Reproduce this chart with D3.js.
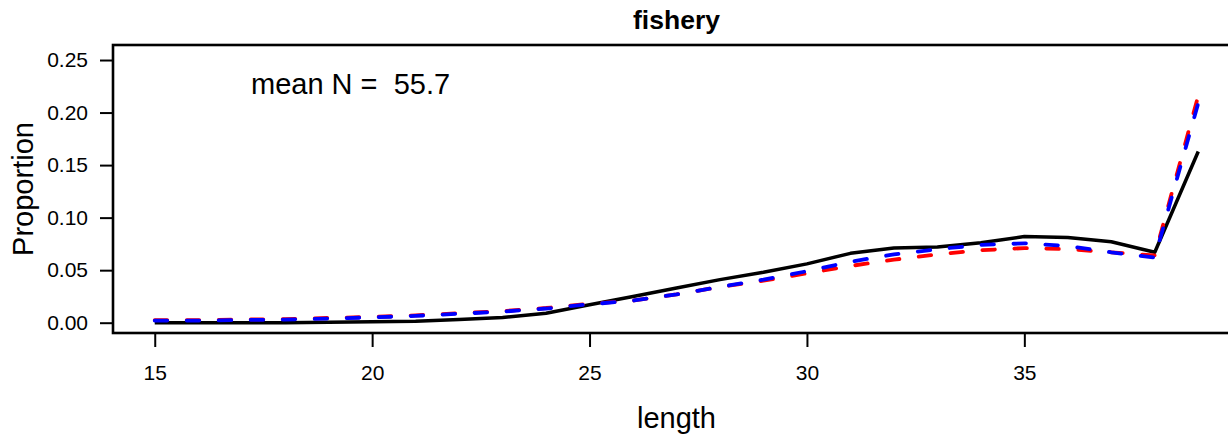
<!DOCTYPE html>
<html>
<head>
<meta charset="utf-8">
<script src="https://cdn.jsdelivr.net/npm/d3@7"></script>
<style>
  html, body { margin: 0; padding: 0; background: #fff; }
  svg { display: block; }
  text { font-family: "Liberation Sans", Arial, sans-serif; fill: #000; }
</style>
</head>
<body>
<svg id="chart" width="1228" height="438"></svg>
<script>
// Length bins (cm)
const lengths = [15, 16, 17, 18, 19, 20, 21, 22, 23, 24, 25, 26, 27, 28, 29, 30, 31, 32, 33, 34, 35, 36, 37, 38, 39];

// Observed composition (solid black)
const observed = [0.000, 0.000, 0.000, 0.000, 0.0005, 0.001, 0.0015, 0.003, 0.005, 0.009, 0.017, 0.025, 0.033, 0.041, 0.048, 0.056, 0.066, 0.071, 0.072, 0.076, 0.082, 0.081, 0.077, 0.067, 0.163];

// Expected composition, first model (red dashed)
const expectedRed = [0.0025, 0.0025, 0.003, 0.0035, 0.0045, 0.0055, 0.007, 0.009, 0.011, 0.014, 0.018, 0.021, 0.027, 0.034, 0.040, 0.047, 0.054, 0.060, 0.065, 0.069, 0.071, 0.070, 0.067, 0.064, 0.216];

// Expected composition, second model (blue dashed)
const expectedBlue = [0.002, 0.002, 0.0025, 0.003, 0.004, 0.005, 0.0065, 0.0085, 0.0105, 0.0135, 0.0175, 0.021, 0.027, 0.034, 0.041, 0.049, 0.058, 0.065, 0.070, 0.074, 0.0755, 0.073, 0.067, 0.062, 0.209];

const xTicks = [15, 20, 25, 30, 35];
const yTicks = [0.00, 0.05, 0.10, 0.15, 0.20, 0.25];

const titleText = "fishery";
const xLabel = "length";
const yLabel = "Proportion";
const meanN = 55.7;

const svg = d3.select("#chart");

// Plot region
const plotLeft = 113, plotRight = 1240, plotTop = 45, plotBottom = 333;

const x = d3.scaleLinear().domain([14.04, 39.96]).range([plotLeft, plotRight]);
const y = d3.scaleLinear().domain([-0.0098, 0.2643]).range([plotBottom, plotTop]);

// Y axis
const yAxis = svg.append("g")
  .attr("transform", `translate(${plotLeft},0)`)
  .call(d3.axisLeft(y).tickValues(yTicks).tickSize(13).tickPadding(12).tickFormat(d3.format(".2f")));
yAxis.select(".domain").remove();
yAxis.selectAll(".tick line").attr("stroke", "#000").attr("stroke-width", 2);
yAxis.selectAll(".tick text").attr("font-size", 21).attr("font-family", "Liberation Sans, Arial, sans-serif");

// X axis
const xAxis = svg.append("g")
  .attr("transform", `translate(0,${plotBottom})`)
  .call(d3.axisBottom(x).tickValues(xTicks).tickSize(14).tickPadding(18).tickFormat(d3.format("d")));
xAxis.select(".domain").remove();
xAxis.selectAll(".tick line").attr("stroke", "#000").attr("stroke-width", 2);
xAxis.selectAll(".tick text").attr("font-size", 21).attr("font-family", "Liberation Sans, Arial, sans-serif");

// Lines
const line = d3.line()
  .x((d, i) => x(lengths[i]))
  .y(d => y(d));

svg.append("path")
  .datum(observed)
  .attr("d", line)
  .attr("fill", "none")
  .attr("stroke", "#000")
  .attr("stroke-width", 3.5)
  .attr("stroke-linejoin", "round");

svg.append("path")
  .datum(expectedRed)
  .attr("d", line)
  .attr("fill", "none")
  .attr("stroke", "#ff0000")
  .attr("stroke-width", 3.8)
  .attr("stroke-linecap", "round")
  .attr("stroke-dasharray", "12.5 19.5");

svg.append("path")
  .datum(expectedBlue)
  .attr("d", line)
  .attr("fill", "none")
  .attr("stroke", "#0000ff")
  .attr("stroke-width", 3.8)
  .attr("stroke-linecap", "round")
  .attr("stroke-dasharray", "12.5 19.5");

// Plot box
svg.append("rect")
  .attr("x", plotLeft).attr("y", plotTop)
  .attr("width", plotRight - plotLeft).attr("height", plotBottom - plotTop)
  .attr("fill", "none")
  .attr("stroke", "#000")
  .attr("stroke-width", 2.6);

// Texts
svg.append("text")
  .attr("x", (plotLeft + plotRight) / 2).attr("y", 29)
  .attr("text-anchor", "middle")
  .attr("font-size", 26.5).attr("font-weight", "bold")
  .text(titleText);

svg.append("text")
  .attr("x", 251).attr("y", 94)
  .attr("font-size", 29)
  .style("white-space", "pre")
  .text(`mean N =  ${meanN}`);

svg.append("text")
  .attr("x", (plotLeft + plotRight) / 2).attr("y", 428)
  .attr("text-anchor", "middle")
  .attr("font-size", 29)
  .text(xLabel);

svg.append("text")
  .attr("transform", `translate(33,189) rotate(-90)`)
  .attr("text-anchor", "middle")
  .attr("font-size", 29)
  .text(yLabel);
</script>
</body>
</html>
